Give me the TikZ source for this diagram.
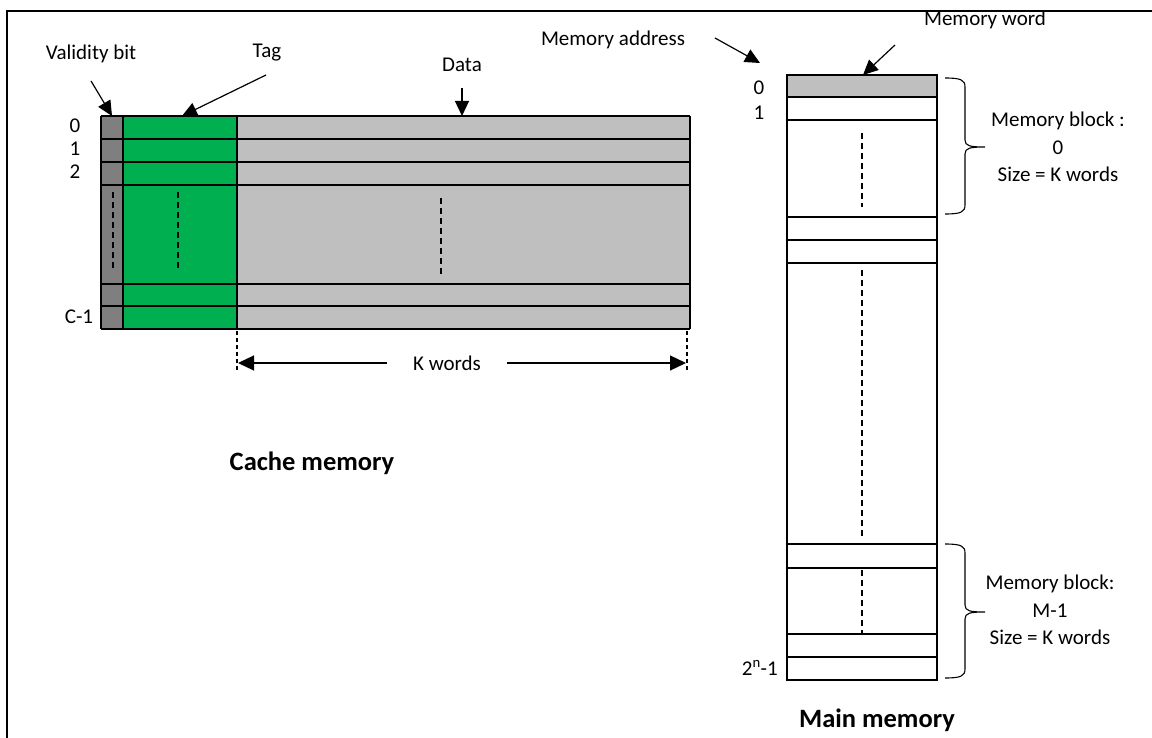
\documentclass[tikz,border=0pt]{standalone}
\usepackage{fontspec}
\setmainfont{Carlito}
\usetikzlibrary{arrows.meta}

\definecolor{validgray}{HTML}{7F7F7F}
\definecolor{taggreen}{HTML}{00B050}
\definecolor{datagray}{HTML}{BFBFBF}

\tikzset{
  lbl/.style={font=\fontsize{21}{27.5}\selectfont, inner sep=0pt, align=center},
  title/.style={font=\bfseries\fontsize{26.5}{30}\selectfont, inner sep=0pt},
  cell/.style={line width=1.8pt},
  gap/.style={dash pattern=on 6pt off 4pt, line width=1.4pt},
  pointer/.style={->, line width=1.2pt},
}

\begin{document}
\begin{tikzpicture}[x=1pt, y=-1pt, >={Triangle[length=15pt,width=14pt]}]
    \useasboundingbox (0,0) rectangle (1152,738);

    % outer frame, cut off at right and bottom
    \draw[line width=1.6pt] (1170,11) -- (7,11) -- (7,760);

    % cache memory: validity bit, tag and data columns
    \fill[validgray] (101,116) rectangle (123,329);
    \fill[taggreen] (123,116) rectangle (237,329);
    \fill[datagray] (237,116) rectangle (690,329);
    \foreach \y in {116,139,162,185,284,306,329}
        \draw[cell] (101,\y) -- (690,\y);
    \foreach \x in {101,123,237,690}
        \draw[cell] (\x,116) -- (\x,329);

    \draw[gap] (113,192) -- (113,268);
    \draw[gap] (178,192) -- (178,268);
    \draw[gap] (441,198) -- (441,276);

    % row numbers of the cache
    \node[lbl] (c0) at (75,126) {0};
    \node[lbl] (c1) at (75,149) {1};
    \node[lbl] (c2) at (75,172) {2};
    \node[lbl] (clast) at (79,317) {C-1};

    % column labels and their arrows
    \node[lbl] (validlbl) at (91,54) {Validity bit};
    \node[lbl] (taglbl) at (267,53) {Tag};
    \node[lbl] (datalbl) at (462,65) {Data};
    \coordinate (validfrom) at (91,81);
    \coordinate (validto) at (112,116);
    \coordinate (tagfrom) at (266,75);
    \coordinate (tagto) at (182,116);
    \coordinate (datafrom) at (462,88);
    \coordinate (datato) at (462,116);
    \draw[pointer] (validfrom) -- (validto);
    \draw[pointer] (tagfrom) -- (tagto);
    \draw[pointer] (datafrom) -- (datato);

    % width of a line: K words
    \draw[dash pattern=on 4pt off 3pt, line width=1.1pt] (237,331) -- (237,372);
    \draw[dash pattern=on 4pt off 3pt, line width=1.1pt] (687,331) -- (687,372);
    \node[lbl] (kwords) at (447,363) {K words};
    \coordinate (kleft) at (238,363);
    \coordinate (kright) at (686,363);
    \draw[pointer, >={Triangle[length=16pt,width=15pt]}] (387,363) -- (kleft);
    \draw[pointer, >={Triangle[length=16pt,width=15pt]}] (507,363) -- (kright);

    \node[title] (cachettl) at (312,463) {Cache memory};

    % main memory
    \draw[cell, fill=white] (787,75) rectangle (937,680);
    \draw[cell, fill=datagray] (787,75) rectangle (937,97);
    \foreach \y in {120,217,240,263,544,568,634,657}
        \draw[cell] (787,\y) -- (937,\y);
    \draw[gap] (862,133) -- (862,207);
    \draw[gap] (862,270) -- (862,537);
    \draw[gap] (862,570) -- (862,633);

    \node[lbl] (m0) at (759,88) {0};
    \node[lbl] (m1) at (759,113) {1};
    \node[lbl, anchor=east] (mlast) at (778,668) {2\textsuperscript{n}-1};

    \node[lbl] (addrlbl) at (613,40) {Memory address};
    \node[lbl] (wordlbl) at (985,20) {Memory word};
    \coordinate (addrfrom) at (715,38);
    \coordinate (addrto) at (760,63);
    \coordinate (wordfrom) at (895,45);
    \coordinate (wordto) at (863,75);
    \draw[pointer] (addrfrom) -- (addrto);
    \draw[pointer] (wordfrom) -- (wordto);

    % braces round the memory blocks
    \foreach \ya/\yb/\yc in {78/147/214, 544/612/678} {
        \draw[line width=1.1pt] (945,\ya) .. controls (961,\ya) and (965,\ya+2) .. (965,\ya+9)
            -- (965,\yb-7) .. controls (965,\yb-1) and (970,\yb) .. (985,\yb)
            .. controls (970,\yb) and (965,\yb+1) .. (965,\yb+7)
            -- (965,\yc-9) .. controls (965,\yc-2) and (961,\yc) .. (945,\yc);
    }
    \node[lbl] (blockfirst) at (1058,147) {Memory block :\\0\\Size = K words};
    \node[lbl] (blocklast) at (1050,610) {Memory block:\\M-1\\Size = K words};

    \node[title] (mainttl) at (877,720) {Main memory};
\end{tikzpicture}
\end{document}
